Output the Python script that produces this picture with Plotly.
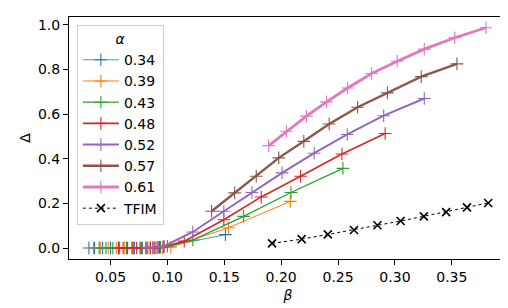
import plotly.graph_objects as go

# ---- data ----
alpha_labels = ["0.34", "0.39", "0.43", "0.48", "0.52", "0.57", "0.61"]
colors = ["#1f77b4", "#ff7f0e", "#2ca02c", "#d62728", "#9467bd", "#8c564b", "#e377c2"]
widths = [0.8, 1.0, 1.3, 1.6, 2.0, 2.4, 2.8]

beta_034 = [0.031, 0.036, 0.043, 0.050, 0.057, 0.064, 0.071, 0.078, 0.085, 0.091, 0.096, 0.151]
delta_034 = [0.0, 0.0, 0.0, 0.0, 0.0, 0.0, 0.0, 0.0, 0.001, 0.002, 0.004, 0.060]

beta_039 = [0.035, 0.041, 0.048, 0.055, 0.062, 0.069, 0.076, 0.083, 0.090, 0.096, 0.103, 0.1536, 0.2081]
delta_039 = [0.0, 0.0, 0.0, 0.0, 0.0, 0.0, 0.0, 0.0, 0.0, 0.002, 0.004, 0.091, 0.209]

beta_043 = [0.040, 0.046, 0.052, 0.058, 0.064, 0.070, 0.076, 0.082, 0.088, 0.094, 0.100, 0.1223, 0.167, 0.2086, 0.2543]
delta_043 = [0.0, 0.0, 0.0, 0.0, 0.0, 0.0, 0.0, 0.0, 0.001, 0.003, 0.008, 0.036, 0.142, 0.249, 0.357]

beta_048 = [0.057, 0.061, 0.065, 0.069, 0.073, 0.077, 0.081, 0.085, 0.089, 0.093, 0.097, 0.1148, 0.1496, 0.1825, 0.217, 0.2534, 0.2914]
delta_048 = [0.0, 0.0, 0.0, 0.0, 0.0, 0.0, 0.0, 0.0, 0.001, 0.003, 0.006, 0.031, 0.127, 0.229, 0.322, 0.421, 0.513]

beta_052 = [0.082, 0.087, 0.092, 0.097, 0.1223, 0.1496, 0.1743, 0.2008, 0.229, 0.2581, 0.2901, 0.3258]
delta_052 = [0.001, 0.002, 0.004, 0.008, 0.072, 0.165, 0.249, 0.337, 0.425, 0.509, 0.593, 0.670]

beta_057 = [0.1388, 0.1591, 0.1781, 0.1979, 0.2199, 0.2422, 0.2672, 0.2934, 0.3231, 0.3545]
delta_057 = [0.165, 0.247, 0.322, 0.404, 0.478, 0.556, 0.631, 0.695, 0.768, 0.825]

beta_061 = [0.189, 0.2046, 0.2222, 0.2399, 0.2584, 0.2795, 0.302, 0.3258, 0.3525, 0.380]
delta_061 = [0.459, 0.523, 0.591, 0.655, 0.717, 0.782, 0.837, 0.891, 0.942, 0.987]

beta_tfim = [0.192, 0.218, 0.241, 0.264, 0.2846, 0.305, 0.3254, 0.345, 0.3633, 0.382]
delta_tfim = [0.021, 0.040, 0.061, 0.081, 0.102, 0.121, 0.142, 0.161, 0.182, 0.202]

betas = [beta_034, beta_039, beta_043, beta_048, beta_052, beta_057, beta_061]
deltas = [delta_034, delta_039, delta_043, delta_048, delta_052, delta_057, delta_061]

x_ticks = [0.05, 0.10, 0.15, 0.20, 0.25, 0.30, 0.35]
y_ticks = [0.0, 0.2, 0.4, 0.6, 0.8, 1.0]

FONT = "DejaVu Sans"
FS = 14

fig = go.Figure()
for lab, c, w, bx, dy in zip(alpha_labels, colors, widths, betas, deltas):
    fig.add_trace(go.Scatter(
        x=bx, y=dy, mode="lines+markers", name=lab,
        line=dict(color=c, width=w),
        marker=dict(symbol="cross-thin-open", size=9, line=dict(color=c, width=1.1)),
    ))
fig.add_trace(go.Scatter(
    x=beta_tfim, y=delta_tfim, mode="lines+markers", name="TFIM",
    line=dict(color="black", width=1, dash="dot"),
    marker=dict(symbol="x-thin-open", size=8, line=dict(color="black", width=1.6)),
))

axis_common = dict(
    showgrid=False, zeroline=False, showline=True, linecolor="black", linewidth=1,
    mirror=True, ticks="outside", ticklen=5, tickwidth=1, tickcolor="black",
    tickfont=dict(family=FONT, size=FS, color="black"),
)
fig.update_xaxes(range=[0.0135, 0.3985], tickvals=x_ticks, tickformat=".2f",
                 title=dict(text="<i>β</i>", font=dict(family=FONT, size=FS, color="black"), standoff=6),
                 **axis_common)
fig.update_yaxes(range=[-0.049, 1.035], tickvals=y_ticks, tickformat=".1f",
                 title=dict(text="Δ", font=dict(family=FONT, size=FS, color="black"), standoff=4),
                 **axis_common)

fig.update_layout(
    width=508, height=308,
    margin=dict(l=61, r=9, t=9, b=57),
    paper_bgcolor="white", plot_bgcolor="white",
    font=dict(family=FONT, size=FS, color="black"),
    legend=dict(
        title=dict(text="<i>α</i>", side="top center", font=dict(family=FONT, size=FS)),
        x=0.018, y=0.967, xanchor="left", yanchor="top",
        bgcolor="rgba(255,255,255,0.8)", bordercolor="#cccccc", borderwidth=1,
        font=dict(family=FONT, size=FS), tracegroupgap=0, itemwidth=36,
    ),
    showlegend=True,
)

fig.write_html("out.html")
